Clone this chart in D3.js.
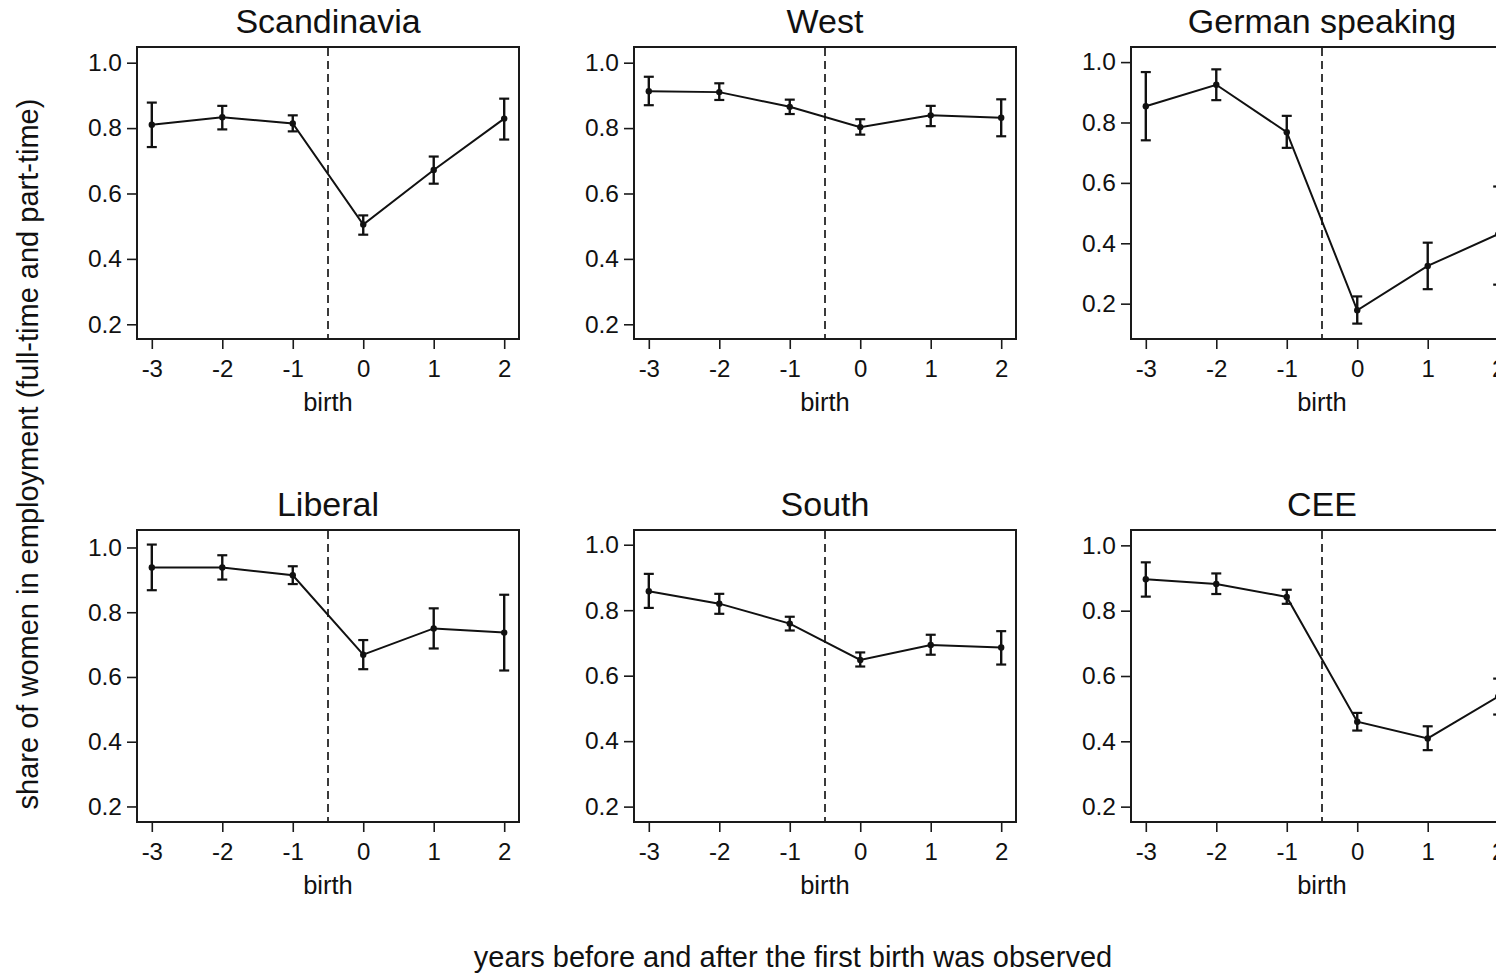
<!DOCTYPE html>
<html>
<head>
<meta charset="utf-8">
<script src="https://cdn.jsdelivr.net/npm/d3@7"></script>
<style>
  html, body { margin: 0; padding: 0; background: #fff; }
  svg { display: block; font-family: Arial, "Liberation Sans", sans-serif; }
</style>
</head>
<body>
<svg id="chart" width="1496" height="973"></svg>
<script>
// ---- data ----
const regions = ["Scandinavia", "West", "German speaking", "Liberal", "South", "CEE"];
const years = [-3, -2, -1, 0, 1, 2];
const yTicks = [0.2, 0.4, 0.6, 0.8, 1.0];

const scandMean = [0.810, 0.833, 0.814, 0.505, 0.672, 0.829];
const scandLo   = [0.742, 0.796, 0.790, 0.474, 0.630, 0.765];
const scandHi   = [0.878, 0.868, 0.839, 0.533, 0.713, 0.890];

const westMean = [0.913, 0.910, 0.865, 0.803, 0.839, 0.832];
const westLo   = [0.870, 0.886, 0.843, 0.780, 0.806, 0.775];
const westHi   = [0.957, 0.937, 0.887, 0.827, 0.868, 0.888];

const germanMean = [0.854, 0.925, 0.768, 0.178, 0.325, 0.430];
const germanLo   = [0.741, 0.874, 0.716, 0.134, 0.248, 0.263];
const germanHi   = [0.967, 0.976, 0.822, 0.224, 0.402, 0.588];

const liberalMean = [0.938, 0.938, 0.914, 0.669, 0.750, 0.737];
const liberalLo   = [0.868, 0.901, 0.887, 0.624, 0.688, 0.620];
const liberalHi   = [1.009, 0.976, 0.942, 0.714, 0.812, 0.854];

const southMean = [0.858, 0.820, 0.759, 0.648, 0.694, 0.686];
const southLo   = [0.807, 0.789, 0.738, 0.628, 0.664, 0.634];
const southHi   = [0.911, 0.850, 0.780, 0.671, 0.725, 0.736];

const ceeMean = [0.896, 0.882, 0.842, 0.460, 0.409, 0.537];
const ceeLo   = [0.843, 0.851, 0.821, 0.433, 0.373, 0.482];
const ceeHi   = [0.948, 0.914, 0.864, 0.487, 0.446, 0.592];

// axis ranges of each panel (value space)
const xDomain = [-3.21, 2.21];
const yDomains = [
  [0.155, 1.048], [0.155, 1.048], [0.083, 1.050],
  [0.152, 1.054], [0.153, 1.045], [0.153, 1.047]
];
const birthLine = -0.5;

const series = [
  [scandMean, scandLo, scandHi],
  [westMean, westLo, westHi],
  [germanMean, germanLo, germanHi],
  [liberalMean, liberalLo, liberalHi],
  [southMean, southLo, southHi],
  [ceeMean, ceeLo, ceeHi]
];

// ---- layout ----
const svg = d3.select("#chart");
svg.append("rect").attr("width", 1496).attr("height", 973).attr("fill", "#fff");

const panelW = 382, panelH = 292;
const colX = [137, 634, 1131];
const rowY = [47, 530];
const FONT = "Arial, 'Liberation Sans', sans-serif";

regions.forEach((name, i) => {
  const col = i % 3, row = Math.floor(i / 3);
  const g = svg.append("g").attr("transform", `translate(${colX[col]},${rowY[row]})`);
  const x = d3.scaleLinear().domain(xDomain).range([0, panelW]);
  const y = d3.scaleLinear().domain(yDomains[i]).range([panelH, 0]);
  const [mean, lo, hi] = series[i];
  const pts = years.map((yr, k) => ({ yr, m: mean[k], lo: lo[k], hi: hi[k] }));

  // y axis
  const yAx = g.append("g").call(d3.axisLeft(y).tickValues(yTicks).tickFormat(d3.format(".1f")).tickSize(10).tickPadding(5));
  yAx.select(".domain").remove();
  yAx.selectAll(".tick line").attr("stroke", "#1a1a1a").attr("stroke-width", 1.6);
  yAx.selectAll(".tick text").attr("font-size", 24.5).attr("fill", "#111").attr("font-family", FONT);

  // x axis
  const xAx = g.append("g").attr("transform", `translate(0,${panelH})`)
    .call(d3.axisBottom(x).tickValues(years).tickFormat(d3.format("d")).tickSize(10).tickPadding(11));
  xAx.select(".domain").remove();
  xAx.selectAll(".tick line").attr("stroke", "#1a1a1a").attr("stroke-width", 1.6);
  xAx.selectAll(".tick text").attr("font-size", 24).attr("fill", "#111").attr("font-family", FONT)
    .text(d => d < 0 ? "-" + Math.abs(d) : d);

  // box
  g.append("rect").attr("x", 0).attr("y", 0).attr("width", panelW).attr("height", panelH)
    .attr("fill", "none").attr("stroke", "#1a1a1a").attr("stroke-width", 2);

  // birth line
  g.append("line").attr("x1", x(birthLine)).attr("x2", x(birthLine)).attr("y1", 1).attr("y2", panelH - 1)
    .attr("stroke", "#3a3a3a").attr("stroke-width", 2).attr("stroke-dasharray", "8,5");

  // connecting line
  g.append("path").datum(pts)
    .attr("d", d3.line().x(d => x(d.yr)).y(d => y(d.m)))
    .attr("fill", "none").attr("stroke", "#111").attr("stroke-width", 2);

  // error bars
  const eb = g.append("g").selectAll("g").data(pts).join("g");
  eb.append("line").attr("x1", d => x(d.yr)).attr("x2", d => x(d.yr))
    .attr("y1", d => y(d.lo)).attr("y2", d => y(d.hi))
    .attr("stroke", "#111").attr("stroke-width", 2.4);
  eb.append("line").attr("x1", d => x(d.yr) - 5).attr("x2", d => x(d.yr) + 5)
    .attr("y1", d => y(d.hi)).attr("y2", d => y(d.hi))
    .attr("stroke", "#111").attr("stroke-width", 2.2);
  eb.append("line").attr("x1", d => x(d.yr) - 5).attr("x2", d => x(d.yr) + 5)
    .attr("y1", d => y(d.lo)).attr("y2", d => y(d.lo))
    .attr("stroke", "#111").attr("stroke-width", 2.2);
  eb.append("circle").attr("cx", d => x(d.yr)).attr("cy", d => y(d.m)).attr("r", 3.2).attr("fill", "#111");

  // panel title
  g.append("text").attr("x", panelW / 2).attr("y", -14).attr("text-anchor", "middle")
    .attr("font-size", 34).attr("fill", "#111").text(name);

  // x label
  g.append("text").attr("x", x(birthLine)).attr("y", panelH + 72).attr("text-anchor", "middle")
    .attr("font-size", 25.5).attr("fill", "#111").text("birth");
});

// global axis titles
svg.append("text").attr("x", 793).attr("y", 967).attr("text-anchor", "middle")
  .attr("font-size", 29).attr("fill", "#111").text("years before and after the first birth was observed");
svg.append("text").attr("transform", "translate(38,454) rotate(-90)").attr("text-anchor", "middle")
  .attr("font-size", 29).attr("fill", "#111").text("share of women in employment (full-time and part-time)");
</script>
</body>
</html>
